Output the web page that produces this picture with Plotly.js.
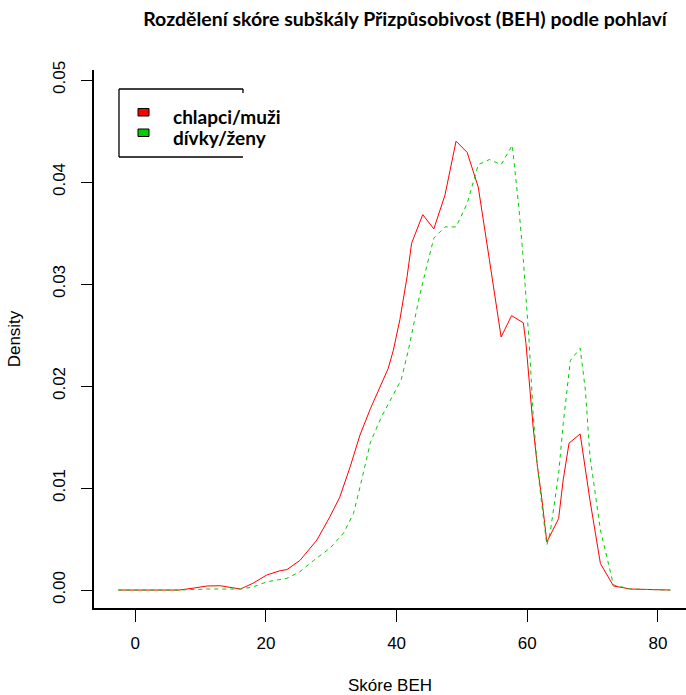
<!DOCTYPE html>
<html><head><meta charset="utf-8">
<script src="https://cdn.plot.ly/plotly-3.0.1.min.js"></script>
<style>html,body{margin:0;padding:0;background:#fff;overflow:hidden}#chart{width:686px;height:695px}</style>
</head><body><div id="chart"></div>
<script>
const chartTitle = "Rozdělení skóre subškály Přizpůsobivost (BEH) podle pohlaví";
const xTitle = "Skóre BEH";
const yTitle = "Density";
const seriesNames = ["chlapci/muži", "dívky/ženy"];
const xTickVals = [0, 20, 40, 60, 80];
const yTickVals = [0, 0.01, 0.02, 0.03, 0.04, 0.05];
const yTickText = ["0.00", "0.01", "0.02", "0.03", "0.04", "0.05"];

const boysX = [-2.6, 6.7, 9, 11, 13, 15, 16.1, 18, 20.1, 22.2, 23.2, 25.2, 27.8, 29.8, 31.3, 32.9, 34.4, 36.0, 38.0, 38.7, 39.5, 40.5, 41.6, 42.3, 44.0, 45.7, 47.4, 49.1, 50.8, 52.5, 54.2, 56.0, 57.6, 59.4, 59.8, 60.9, 61.5, 62.2, 63.0, 64.8, 65.5, 66.4, 68.1, 69.6, 71.2, 73.2, 75.8, 81.9];
const boysY = [0, 0, 0.0002, 0.0004, 0.00042, 0.00026, 0.0001, 0.00066, 0.00147, 0.0019, 0.002, 0.0029, 0.0049, 0.0072, 0.0091, 0.0121, 0.0152, 0.0178, 0.0206, 0.0217, 0.0235, 0.0265, 0.0307, 0.034, 0.0368, 0.0354, 0.0387, 0.044, 0.0429, 0.0395, 0.0324, 0.0248, 0.0269, 0.0262, 0.0242, 0.016, 0.0124, 0.0091, 0.0047, 0.007, 0.0108, 0.0144, 0.0153, 0.0088, 0.0026, 0.0004, 0.0001, 0];

const girlsX = [-2.6, 6.7, 11, 13, 16.1, 18, 20.1, 23.2, 25.2, 27.3, 29.8, 31.9, 33.4, 34.4, 36.0, 37.7, 39.3, 40.7, 41.8, 43.5, 44.6, 45.7, 47.4, 49.1, 50.8, 52.5, 54.2, 56.0, 57.7, 58.7, 59.4, 60.3, 60.9, 61.5, 62.2, 63.0, 63.5, 64.8, 65.5, 66.6, 68.1, 68.9, 69.6, 71.2, 73.2, 75.8, 81.9];
const girlsY = [0, 0, 0.0001, 0.0001, 0.0001, 0.0003, 0.0008, 0.00115, 0.0018, 0.0029, 0.0041, 0.0056, 0.0075, 0.0101, 0.0145, 0.017, 0.019, 0.0206, 0.0235, 0.0288, 0.0317, 0.0345, 0.0356, 0.0356, 0.0379, 0.0417, 0.0422, 0.0417, 0.0436, 0.0376, 0.0324, 0.0242, 0.0173, 0.0124, 0.0085, 0.0044, 0.0056, 0.0114, 0.0163, 0.0225, 0.0237, 0.0196, 0.0131, 0.0059, 0.0005, 0.0001, 0];

const colors = ["#FF0000", "#00CC00"];

// plot area in pixels
const W = 686, H = 695, L = 94, R = 686, T = 70, B = 608;
const px = x => (x - L) / (R - L);
const py = y => (B - y) / (B - T);

const traces = [
  {x: boysX, y: boysY, type: "scatter", mode: "lines", name: seriesNames[0],
   line: {color: colors[0], width: 1}, showlegend: false},
  {x: girlsX, y: girlsY, type: "scatter", mode: "lines", name: seriesNames[1],
   line: {color: colors[1], width: 1, dash: "4px,4px"}, showlegend: false}
];

const axisFont = {family: "Liberation Sans, Arial, sans-serif", size: 17, color: "#000"};
const boldFont = {family: "Lato, sans-serif", size: 19, color: "#000", weight: "bold"};

const shapes = [
  {type: "line", xref: "paper", yref: "paper", x0: px(119), x1: px(119), y0: py(89), y1: py(157), line: {color: "#000", width: 1.3}},
  {type: "line", xref: "paper", yref: "paper", x0: px(119), x1: px(243), y0: py(89), y1: py(89), line: {color: "#000", width: 1.3}},
  {type: "line", xref: "paper", yref: "paper", x0: px(243), x1: px(243), y0: py(89), y1: py(93), line: {color: "#000", width: 1.3}},
  {type: "line", xref: "paper", yref: "paper", x0: px(119), x1: px(243), y0: py(157), y1: py(157), line: {color: "#000", width: 1.3}},
  {type: "rect", xref: "paper", yref: "paper", x0: px(138), x1: px(149), y0: py(108.5), y1: py(116), fillcolor: colors[0], line: {color: "#000", width: 1}},
  {type: "rect", xref: "paper", yref: "paper", x0: px(138), x1: px(149), y0: py(129), y1: py(136.5), fillcolor: colors[1], line: {color: "#000", width: 1}}
];

const annotations = [
  {text: seriesNames[0], xref: "paper", yref: "paper", x: px(171), y: py(116), xanchor: "left", yanchor: "middle", showarrow: false, font: boldFont},
  {text: seriesNames[1], xref: "paper", yref: "paper", x: px(171), y: py(137), xanchor: "left", yanchor: "middle", showarrow: false, font: boldFont}
];

const layout = {
  width: W, height: H,
  margin: {l: L, r: W - R, t: T, b: H - B, pad: 0},
  paper_bgcolor: "#fff", plot_bgcolor: "#fff",
  title: {text: chartTitle, x: 405 / W, xanchor: "center", y: 1 - 19 / H, yanchor: "middle",
          font: {family: "Lato, sans-serif", size: 19.5, color: "#000", weight: "bold"}},
  xaxis: {range: [-6.32, 84.3], tickvals: xTickVals, ticks: "outside", ticklen: 12, tickwidth: 1, tickcolor: "#000",
          showline: true, linecolor: "#000", linewidth: 1.6, showgrid: false, zeroline: false,
          tickfont: axisFont, ticklabelstandoff: 7,
          title: {text: xTitle, font: axisFont, standoff: 28}},
  yaxis: {range: [-0.00176, 0.05098], tickvals: yTickVals, ticktext: yTickText, ticks: "outside", ticklen: 11, tickwidth: 1, tickcolor: "#000",
          showline: true, linecolor: "#000", linewidth: 1.6, showgrid: false, zeroline: false,
          tickangle: -90, tickfont: axisFont, ticklabelstandoff: 10,
          title: {text: yTitle, font: axisFont, standoff: 24}},
  shapes: shapes,
  annotations: annotations,
  showlegend: false
};

Plotly.newPlot("chart", traces, layout, {displayModeBar: false, staticPlot: true});
</script>
</body></html>
